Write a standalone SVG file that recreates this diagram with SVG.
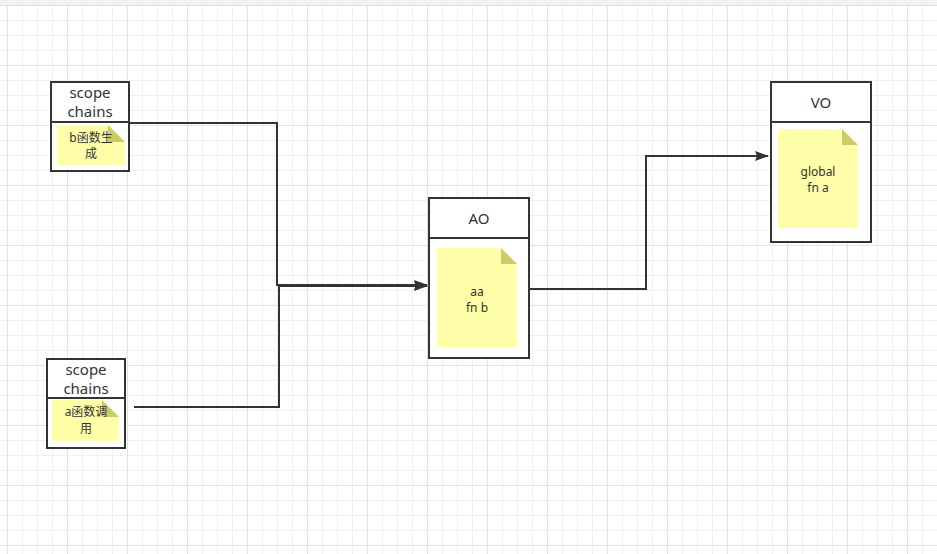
<svg xmlns="http://www.w3.org/2000/svg" width="937" height="554" viewBox="0 0 937 554">
<defs>
<pattern id="minor" x="7" y="5" width="15" height="15" patternUnits="userSpaceOnUse">
<path d="M0.5 0V15M0 0.5H15" stroke="#efefef" stroke-width="1" fill="none"/>
</pattern>
<pattern id="major" x="7" y="5" width="60" height="60" patternUnits="userSpaceOnUse">
<path d="M0.5 0V60M0 0.5H60" stroke="#e2e2e2" stroke-width="1" fill="none"/>
</pattern>
<marker id="arr" viewBox="0 0 14 10" refX="13" refY="5" markerWidth="14" markerHeight="10" markerUnits="userSpaceOnUse" orient="auto">
<path d="M0 0L14 5L0 10L2 5Z" fill="#333"/>
</marker>
</defs>
<style>
.box{fill:#fff;stroke:#333;stroke-width:2}
.div{stroke:#333;stroke-width:2}
.note{fill:#ffffaa}
.fold{fill:#cccc66}
.t{font-family:"Noto Sans","Noto Sans CJK SC",sans-serif;fill:#333;text-anchor:middle}
.h{font-size:15px}
.n{font-size:12px}
.c{fill:none;stroke:#333;stroke-width:2}
</style>
<rect width="937" height="554" fill="#fff"/>
<rect width="937" height="554" fill="url(#minor)"/>
<rect width="937" height="554" fill="url(#major)"/>
<rect width="937" height="5" fill="#f2f2f2"/>

<g id="scope1">
<rect class="box" x="51" y="82" width="78" height="89"/>
<line class="div" x1="51" y1="122" x2="129" y2="122"/>
<path class="note" d="M57 125H108L125 142V165H57Z"/>
<path class="fold" d="M108 125L125 142H108Z"/>
<text class="t h" x="90" y="98">scope</text>
<text class="t h" x="90" y="117">chains</text>
<text class="t n" x="91" y="142">b函数生</text>
<text class="t n" x="91" y="158">成</text>
</g>

<g id="scope2">
<rect class="box" x="47" y="359" width="78" height="89"/>
<line class="div" x1="47" y1="398" x2="125" y2="398"/>
<path class="note" d="M52 400H102L119 417V441H52Z"/>
<path class="fold" d="M102 400L119 417H102Z"/>
<text class="t h" x="86" y="375">scope</text>
<text class="t h" x="86" y="394">chains</text>
<text class="t n" x="86" y="416">a函数调</text>
<text class="t n" x="86" y="433">用</text>
</g>

<g id="ao">
<rect class="box" x="429" y="198" width="100" height="160"/>
<line class="div" x1="429" y1="238" x2="529" y2="238"/>
<path class="note" d="M437 248H501L517 264V347H437Z"/>
<path class="fold" d="M501 248L517 264H501Z"/>
<text class="t h" x="479" y="224">AO</text>
<text class="t n" x="477" y="296">aa</text>
<text class="t n" x="477" y="312">fn b</text>
</g>

<g id="vo">
<rect class="box" x="771" y="82" width="100" height="160"/>
<line class="div" x1="771" y1="122" x2="871" y2="122"/>
<path class="note" d="M778 129H842L858 145V228H778Z"/>
<path class="fold" d="M842 129L858 145H842Z"/>
<text class="t h" x="821" y="108">VO</text>
<text class="t n" x="818" y="176">global</text>
<text class="t n" x="818" y="192">fn a</text>
</g>

<g id="connectors">
<path class="c" d="M129 123H277V285H427" marker-end="url(#arr)"/>
<path class="c" d="M134 407H279V286H427" marker-end="url(#arr)"/>
<path class="c" d="M529 289H646V156H768" marker-end="url(#arr)"/>
</g>
</svg>
